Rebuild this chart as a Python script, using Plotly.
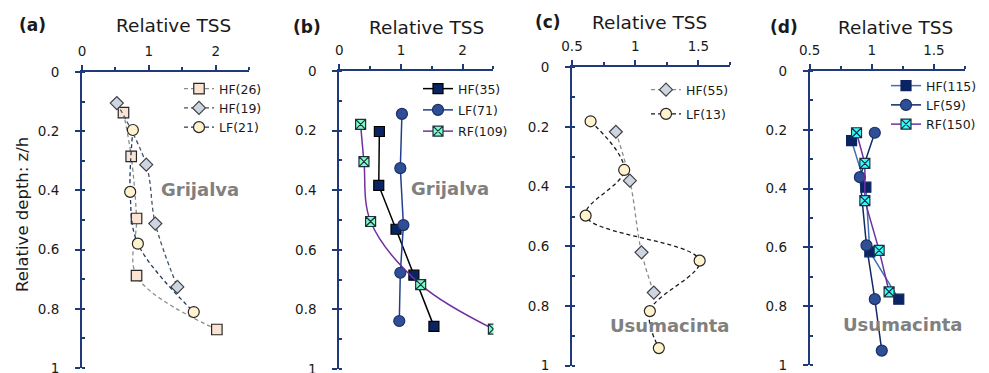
import plotly.graph_objects as go

W, H = 989, 373

# ---------------- data ----------------
# Panel (a) Grijalva
a_hf26_x = [0.62, 0.735, 0.815, 0.815, 2.015]
a_hf26_y = [0.137, 0.285, 0.495, 0.688, 0.870]
a_hf19_x = [0.52, 0.96, 1.095, 1.425]
a_hf19_y = [0.105, 0.313, 0.512, 0.726]
a_lf21_x = [0.76, 0.72, 0.835, 1.67]
a_lf21_y = [0.196, 0.405, 0.580, 0.811]

# Panel (b) Grijalva
b_hf35_x = [0.65, 0.64, 0.92, 1.21, 1.535]
b_hf35_y = [0.203, 0.384, 0.531, 0.685, 0.857]
b_lf71_x = [1.016, 0.99, 1.04, 0.99, 0.973]
b_lf71_y = [0.144, 0.326, 0.517, 0.677, 0.839]
b_rf109_x = [0.346, 0.40, 0.508, 1.32, 2.50]
b_rf109_y = [0.179, 0.304, 0.505, 0.717, 0.866]

# Panel (c) Usumacinta
c_hf55_x = [0.847, 0.958, 1.05, 1.147]
c_hf55_y = [0.216, 0.380, 0.620, 0.755]
c_lf13_x = [0.647, 0.913, 0.608, 1.51, 1.116, 1.187]
c_lf13_y = [0.181, 0.344, 0.497, 0.648, 0.817, 0.941]

# Panel (d) Usumacinta
d_hf115_x = [0.837, 0.952, 0.984, 1.217]
d_hf115_y = [0.237, 0.395, 0.615, 0.776]
d_lf59_x = [1.024, 0.904, 0.957, 1.024, 1.08]
d_lf59_y = [0.210, 0.361, 0.593, 0.776, 0.951]
d_rf150_x = [0.877, 0.944, 0.944, 1.059, 1.139]
d_rf150_y = [0.210, 0.314, 0.441, 0.610, 0.751]

panel_labels = ["(a)", "(b)", "(c)", "(d)"]
river_labels = ["Grijalva", "Grijalva", "Usumacinta", "Usumacinta"]
x_title = "Relative TSS"
y_title = "Relative depth: z/h"

# ---------------- layout geometry (screen pixels) ----------------
FONT = "DejaVu Sans"
AXC = "#1F3A78"
OFF = 8  # page offset of the figure div
x_px = [(82, 249.3), (339.3, 493.4), (572, 730), (809.7, 965)]
y_px = [(72, 368), (71, 369), (67.3, 365.7), (71, 365)]
x_ranges = [(0, 2.5), (0, 2.5), (0.5, 1.75), (0.5, 1.75)]
x_dticks = [1, 1, 0.5, 0.5]

fig = go.Figure()


def px2x(p):
    return (p - OFF) / W


def px2y(p):
    return 1 - (p - OFF) / H


def add(panel, x, y, name, lcolor, dash, shape, sym, msize, mfill, mline, lw=1.3):
    sfx = "" if panel == 0 else str(panel + 1)
    fig.add_trace(go.Scatter(
        x=x, y=y, name=name, mode="lines+markers",
        xaxis="x" + sfx, yaxis="y" + sfx,
        line=dict(color=lcolor, width=lw, dash=dash, shape=shape, smoothing=1.0),
        marker=dict(symbol=sym, size=msize, color=mfill, line=dict(color=mline, width=1.2)),
        legend="legend" + sfx, legendgroup=name + str(panel),
    ))


DASH = "4px,3px"
# (a)
add(0, a_hf26_x, a_hf26_y, "HF(26)", "#8C8C8C", DASH, "spline", "square", 10.5, "#FBE3D3", "#262626")
add(0, a_hf19_x, a_hf19_y, "HF(19)", "#44546A", DASH, "spline", "diamond", 10, "#CDD5E2", "#404040")
add(0, a_lf21_x, a_lf21_y, "LF(21)", "#1F3864", DASH, "spline", "circle", 11, "#FFF2CC", "#262626")
# (b)
add(1, b_hf35_x, b_hf35_y, "HF(35)", "#000000", "solid", "linear", "square", 10, "#0A2463", "#000000", lw=1.5)
add(1, b_lf71_x, b_lf71_y, "LF(71)", "#203F8C", "solid", "linear", "circle", 11, "#2E4F96", "#1B2F66", lw=1.5)
add(1, b_rf109_x, b_rf109_y, "RF(109)", "#7030A0", "solid", "spline", "square-x", 10, "#7CFFC4", "#1F2F3F", lw=1.5)
# (c)
add(2, c_hf55_x, c_hf55_y, "HF(55)", "#8C8C8C", DASH, "spline", "diamond", 10, "#CDD5E2", "#404040")
add(2, c_lf13_x, c_lf13_y, "LF(13)", "#1A1A1A", DASH, "spline", "circle", 11, "#FFF2CC", "#262626")
# (d)
add(3, d_hf115_x, d_hf115_y, "HF(115)", "#3E73B0", "solid", "linear", "square", 10, "#0A2463", "#0A2463", lw=1.5)
add(3, d_lf59_x, d_lf59_y, "LF(59)", "#0F2A66", "solid", "linear", "circle", 11, "#2E4F96", "#1B2F66", lw=1.5)
add(3, d_rf150_x, d_rf150_y, "RF(150)", "#7030A0", "solid", "linear", "square-x", 10, "#33FFFF", "#1F2F3F", lw=1.5)

layout = dict(
    width=W, height=H, margin=dict(l=0, r=0, t=0, b=0, autoexpand=False),
    paper_bgcolor="white", plot_bgcolor="white",
    font=dict(family=FONT, size=13, color="#1A1A1A"),
)

for i in range(4):
    sfx = "" if i == 0 else str(i + 1)
    x0, x1 = x_px[i]
    y0, y1 = y_px[i]
    r0, r1 = x_ranges[i]
    layout["xaxis" + sfx] = dict(
        domain=[px2x(x0), px2x(x1)], range=[r0, r1], anchor="y" + sfx, side="top",
        automargin=False,
        dtick=x_dticks[i], tick0=r0, showgrid=False, zeroline=False,
        showline=True, linecolor=AXC, linewidth=2,
        ticks="outside", ticklen=5, tickwidth=1.5, tickcolor=AXC,
        minor=dict(dtick=x_dticks[i] / 2, tick0=r0, ticks="outside", ticklen=3, tickwidth=1.5, tickcolor=AXC),
        tickfont=dict(size=13.5, family=FONT, color="#1A1A1A"), ticklabelstandoff=4,
    )
    layout["yaxis" + sfx] = dict(
        domain=[px2y(y1), px2y(y0)], range=[1, 0], anchor="x" + sfx,
        automargin=False,
        dtick=0.2, tick0=0, showgrid=False, zeroline=False,
        showline=True, linecolor=AXC, linewidth=2,
        ticks="outside", ticklen=5, tickwidth=1.5, tickcolor=AXC,
        minor=dict(dtick=0.1, tick0=0, ticks="inside", ticklen=3, tickwidth=1.5, tickcolor=AXC),
        tickfont=dict(size=13.5, family=FONT, color="#1A1A1A"), ticklabelstandoff=13,
    )

# legends: (legend left x px, legend top px, group gap)
leg_pos = [(179, 74, 0), (418, 74, 2), (646, 75, 5), (886, 71, 0)]
for i in range(4):
    sfx = "" if i == 0 else str(i + 1)
    lx, ly, gap = leg_pos[i]
    layout["legend" + sfx] = dict(
        x=px2x(lx), y=px2y(ly), xanchor="left", yanchor="top",
        bgcolor="rgba(0,0,0,0)", borderwidth=0, tracegroupgap=gap,
        font=dict(size=12.5, family=FONT, color="#1A1A1A"), itemwidth=30,
    )

ann = []
title_cx = [173, 426, 649, 895]
title_cy = [25, 27, 22, 27]
lab_cx = [32, 307, 548, 784]
riv_c = [(200, 189), (450, 188), (669, 325), (902, 324)]
for i in range(4):
    ann.append(dict(text=x_title, x=px2x(title_cx[i]), y=px2y(title_cy[i]), xref="paper", yref="paper",
                    showarrow=False, xanchor="center", yanchor="middle",
                    font=dict(size=18.5, family=FONT, color="#1A1A1A")))
    ann.append(dict(text="<b>" + panel_labels[i] + "</b>", x=px2x(lab_cx[i]), y=px2y(title_cy[i]),
                    xref="paper", yref="paper", showarrow=False, xanchor="center", yanchor="middle",
                    font=dict(size=17, family=FONT, color="#1A1A1A")))
    ann.append(dict(text="<b>" + river_labels[i] + "</b>", x=px2x(riv_c[i][0]), y=px2y(riv_c[i][1]),
                    xref="paper", yref="paper", showarrow=False, xanchor="center", yanchor="middle",
                    font=dict(size=18, family=FONT, color="#808080")))
ann.append(dict(text=y_title, x=px2x(22), y=px2y(215), xref="paper", yref="paper", textangle=-90,
                showarrow=False, xanchor="center", yanchor="middle",
                font=dict(size=16.5, family=FONT, color="#1A1A1A")))
layout["annotations"] = ann

fig.update_layout(**layout)
fig.write_html("out.html")
